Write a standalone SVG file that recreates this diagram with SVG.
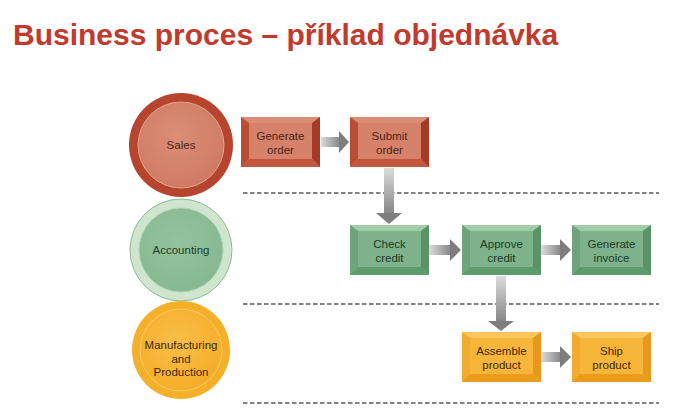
<svg xmlns="http://www.w3.org/2000/svg" width="675" height="415" viewBox="0 0 675 415">
  <defs>
    <style>
      .title { font-family: "Liberation Sans", Arial, sans-serif; font-weight: bold; font-size: 30px; fill: #C13A2E; }
      .lbl { font-family: "Liberation Sans", Arial, sans-serif; font-size: 11.5px; text-anchor: middle; }
      .red .lbl { fill: #4A2418; }
      .green .lbl { fill: #1E3B27; }
      .orange .lbl { fill: #3D2808; }
      .dash { stroke: #5A5A5A; stroke-width: 1.4; stroke-dasharray: 4.5 2.5; fill: none; }
      .red .face { fill: #D6826A; } .red .bt { fill: #DC8C74; } .red .bl { fill: #BA4D37; } .red .br { fill: #A53A27; } .red .bb { fill: #C3573D; }
      .green .face { fill: #7DB28A; } .green .bt { fill: #A2CDA9; } .green .bl { fill: #6DA47C; } .green .br { fill: #5A9368; } .green .bb { fill: #5F9C6D; }
      .orange .face { fill: #F7B53A; } .orange .bt { fill: #FBC65E; } .orange .bl { fill: #F2AB2E; } .orange .br { fill: #E6991A; } .orange .bb { fill: #EA9D1D; }
      .head { fill: #7E7E7E; }
    </style>
    <linearGradient id="gh" x1="0" y1="0" x2="1" y2="0">
      <stop offset="0" stop-color="#DCDCDC"/>
      <stop offset="1" stop-color="#858585"/>
    </linearGradient>
    <linearGradient id="gv" x1="0" y1="0" x2="0" y2="1">
      <stop offset="0" stop-color="#DCDCDC"/>
      <stop offset="1" stop-color="#858585"/>
    </linearGradient>
    <radialGradient id="gSales" cx="0.45" cy="0.4" r="0.6">
      <stop offset="0" stop-color="#DB8E75"/>
      <stop offset="1" stop-color="#CF7B64"/>
    </radialGradient>
    <radialGradient id="gAcc" cx="0.45" cy="0.4" r="0.6">
      <stop offset="0" stop-color="#94C49E"/>
      <stop offset="1" stop-color="#86B891"/>
    </radialGradient>
    <radialGradient id="gMan" cx="0.45" cy="0.4" r="0.6">
      <stop offset="0" stop-color="#F9BE48"/>
      <stop offset="1" stop-color="#F5AE2A"/>
    </radialGradient>
  </defs>

  <rect width="675" height="415" fill="#FFFFFF"/>

  <text class="title" x="13" y="45">Business proces – příklad objednávka</text>

  <g id="lanes">
    <line class="dash" x1="243" y1="193" x2="659" y2="193"/>
    <line class="dash" x1="243" y1="304" x2="659" y2="304"/>
    <line class="dash" x1="243" y1="403" x2="659" y2="403"/>
  </g>

  <g id="sales" class="red">
    <circle cx="181" cy="145" r="52" fill="#B7442F"/>
    <circle cx="181" cy="145" r="43" fill="url(#gSales)" stroke="#E3A38C" stroke-width="1"/>
    <text class="lbl" x="181" y="149">Sales</text>
  </g>

  <g id="accounting" class="green">
    <circle cx="181" cy="250" r="51" fill="#CFE5CD" stroke="#8FB995" stroke-width="1"/>
    <circle cx="181" cy="250" r="42" fill="url(#gAcc)" stroke="#B2D6B6" stroke-width="1"/>
    <text class="lbl" x="181" y="254">Accounting</text>
  </g>

  <g id="manufacturing" class="orange">
    <circle cx="181" cy="350" r="49" fill="#F5B02A"/>
    <circle cx="181" cy="350" r="41" fill="url(#gMan)" stroke="#F9C967" stroke-width="1"/>
    <text class="lbl" x="181" y="349">Manufacturing<tspan x="181" dy="13.5">and</tspan><tspan x="181" dy="13.5">Production</tspan></text>
  </g>

  <g id="generate-order" class="red" transform="translate(241,117)">
    <rect class="face" width="79" height="50"/>
    <polygon class="bt" points="0,0 79,0 71,6 8,6"/>
    <polygon class="bl" points="0,0 8,6 8,42 0,50"/>
    <polygon class="br" points="79,0 79,50 71,42 71,6"/>
    <polygon class="bb" points="0,50 8,42 71,42 79,50"/>
    <text class="lbl" x="39.5" y="23">Generate<tspan x="39.5" dy="13.5">order</tspan></text>
  </g>

  <g id="submit-order" class="red" transform="translate(350,117)">
    <rect class="face" width="79" height="50"/>
    <polygon class="bt" points="0,0 79,0 71,6 8,6"/>
    <polygon class="bl" points="0,0 8,6 8,42 0,50"/>
    <polygon class="br" points="79,0 79,50 71,42 71,6"/>
    <polygon class="bb" points="0,50 8,42 71,42 79,50"/>
    <text class="lbl" x="39.5" y="23">Submit<tspan x="39.5" dy="13.5">order</tspan></text>
  </g>

  <g id="check-credit" class="green" transform="translate(350,225)">
    <rect class="face" width="79" height="50"/>
    <polygon class="bt" points="0,0 79,0 71,6 8,6"/>
    <polygon class="bl" points="0,0 8,6 8,42 0,50"/>
    <polygon class="br" points="79,0 79,50 71,42 71,6"/>
    <polygon class="bb" points="0,50 8,42 71,42 79,50"/>
    <text class="lbl" x="39.5" y="23">Check<tspan x="39.5" dy="13.5">credit</tspan></text>
  </g>

  <g id="approve-credit" class="green" transform="translate(462,225)">
    <rect class="face" width="79" height="50"/>
    <polygon class="bt" points="0,0 79,0 71,6 8,6"/>
    <polygon class="bl" points="0,0 8,6 8,42 0,50"/>
    <polygon class="br" points="79,0 79,50 71,42 71,6"/>
    <polygon class="bb" points="0,50 8,42 71,42 79,50"/>
    <text class="lbl" x="39.5" y="23">Approve<tspan x="39.5" dy="13.5">credit</tspan></text>
  </g>

  <g id="generate-invoice" class="green" transform="translate(572,225)">
    <rect class="face" width="79" height="50"/>
    <polygon class="bt" points="0,0 79,0 71,6 8,6"/>
    <polygon class="bl" points="0,0 8,6 8,42 0,50"/>
    <polygon class="br" points="79,0 79,50 71,42 71,6"/>
    <polygon class="bb" points="0,50 8,42 71,42 79,50"/>
    <text class="lbl" x="39.5" y="23">Generate<tspan x="39.5" dy="13.5">invoice</tspan></text>
  </g>

  <g id="assemble-product" class="orange" transform="translate(462,332)">
    <rect class="face" width="79" height="50"/>
    <polygon class="bt" points="0,0 79,0 71,6 8,6"/>
    <polygon class="bl" points="0,0 8,6 8,42 0,50"/>
    <polygon class="br" points="79,0 79,50 71,42 71,6"/>
    <polygon class="bb" points="0,50 8,42 71,42 79,50"/>
    <text class="lbl" x="39.5" y="23">Assemble<tspan x="39.5" dy="13.5">product</tspan></text>
  </g>

  <g id="ship-product" class="orange" transform="translate(572,332)">
    <rect class="face" width="79" height="50"/>
    <polygon class="bt" points="0,0 79,0 71,6 8,6"/>
    <polygon class="bl" points="0,0 8,6 8,42 0,50"/>
    <polygon class="br" points="79,0 79,50 71,42 71,6"/>
    <polygon class="bb" points="0,50 8,42 71,42 79,50"/>
    <text class="lbl" x="39.5" y="23">Ship<tspan x="39.5" dy="13.5">product</tspan></text>
  </g>

  <g id="connectors">
    <rect x="321" y="137" width="19" height="10" fill="url(#gh)"/>
    <polygon class="head" points="339,131 349,142 339,153"/>
    <rect x="384" y="168" width="10" height="46" fill="url(#gv)"/>
    <polygon class="head" points="376,213 402,213 389,224"/>
    <rect x="429" y="245" width="22" height="10" fill="url(#gh)"/>
    <polygon class="head" points="450,239 461,250 450,261"/>
    <rect x="541" y="245" width="20" height="10" fill="url(#gh)"/>
    <polygon class="head" points="560,239 571,250 560,261"/>
    <rect x="496" y="276" width="10" height="46" fill="url(#gv)"/>
    <polygon class="head" points="488,321 514,321 501,331"/>
    <rect x="541" y="352" width="20" height="10" fill="url(#gh)"/>
    <polygon class="head" points="560,346 571,357 560,368"/>
  </g>
</svg>
